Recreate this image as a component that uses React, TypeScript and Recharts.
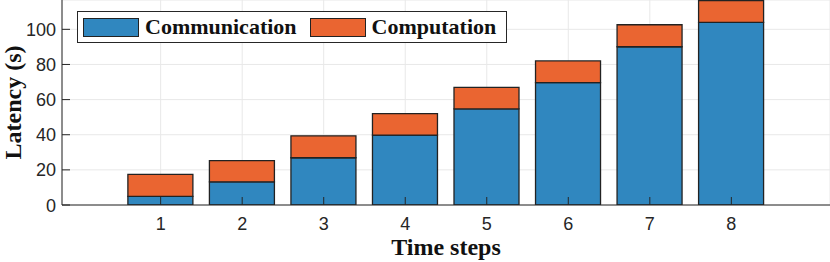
import React from "react";
import { BarChart, Bar, XAxis, YAxis, CartesianGrid, Legend } from "recharts";

const steps = [1, 2, 3, 4, 5, 6, 7, 8];
const communication = [4.9, 13.2, 26.9, 39.8, 54.7, 69.7, 90.1, 104.0];
const computation = [12.5, 12.1, 12.5, 12.2, 12.3, 12.3, 12.5, 12.3];
const yTicks = [0, 20, 40, 60, 80, 100];

const data = steps.map((s, i) => ({
  step: s,
  communication: communication[i],
  computation: computation[i],
}));

const BLUE = "#3087bf";
const ORANGE = "#ea6531";
const EDGE = "#222222";
const AXIS = "#262626";
const SERIF = "'Liberation Serif', 'Times New Roman', serif";
const SANS = "'Liberation Sans', Arial, Helvetica, sans-serif";

function XTick({ x, y, payload }: any) {
  return (
    <g>
      <line x1={x} x2={x} y1={y} y2={y - 8} stroke={AXIS} strokeWidth={1} />
      <text x={x} y={y + 25} textAnchor="middle" fontSize={18} fontFamily={SANS} fill={AXIS}>
        {payload.value}
      </text>
    </g>
  );
}

function YTick({ x, y, payload }: any) {
  return (
    <g>
      <line x1={x} x2={x + 8} y1={y} y2={y} stroke={AXIS} strokeWidth={1} />
      <text x={x - 6} y={y + 6.5} textAnchor="end" fontSize={18} fontFamily={SANS} fill={AXIS}>
        {payload.value}
      </text>
    </g>
  );
}

function XLabel({ viewBox }: any) {
  const cx = viewBox.x + viewBox.width / 2;
  return (
    <text x={cx} y={viewBox.y + 50} textAnchor="middle" fontFamily={SERIF} fontWeight="bold" fontSize={24} fill="#111">
      Time steps
    </text>
  );
}

function YLabel({ viewBox }: any) {
  const cy = viewBox.y + viewBox.height / 2;
  const x = 21;
  return (
    <text x={x} y={cy} transform={`rotate(-90 ${x} ${cy})`} textAnchor="middle" fontFamily={SERIF} fontWeight="bold" fontSize={24} fill="#111">
      Latency (s)
    </text>
  );
}

function LegendBox({ payload }: any) {
  return (
    <div
      style={{
        display: "flex",
        alignItems: "center",
        border: "1.3px solid #262626",
        background: "#fff",
        height: 32,
        width: 430,
        padding: "0 0 0 5px",
        boxSizing: "border-box",
      }}
    >
      {(payload || []).map((p: any, i: number) => (
        <div key={p.dataKey} style={{ display: "flex", alignItems: "center", marginLeft: i ? 13 : 0 }}>
          <div style={{ width: 56, height: 19, background: p.color, border: `1.3px solid ${EDGE}`, boxSizing: "border-box" }} />
          <span style={{ fontFamily: SERIF, fontWeight: "bold", fontSize: 22, color: "#111", marginLeft: 6, lineHeight: 1 }}>
            {p.value}
          </span>
        </div>
      ))}
    </div>
  );
}

export default function App() {
  return (
    <div style={{ position: "fixed", left: 0, top: 0, width: 830, height: 262, background: "#fff" }}>
      <BarChart width={830} height={262} data={data} margin={{ top: 0, right: 0, bottom: 0, left: 0 }} barSize={65}>
        <CartesianGrid stroke="#e8e8e8" strokeWidth={1} />
        <Bar dataKey="communication" name="Communication" stackId="a" fill={BLUE} stroke={EDGE} strokeWidth={1.3} isAnimationActive={false} />
        <Bar dataKey="computation" name="Computation" stackId="a" fill={ORANGE} stroke={EDGE} strokeWidth={1.3} isAnimationActive={false} />
        <XAxis
          dataKey="step"
          type="number"
          domain={[-0.21, 9.21]}
          ticks={steps}
          allowDataOverflow
          height={57}
          tickSize={0}
          tickMargin={0}
          tickLine={false}
          axisLine={{ stroke: AXIS, strokeWidth: 1 }}
          tick={<XTick />}
          interval={0}
          label={<XLabel />}
        />
        <YAxis
          type="number"
          domain={[0, 116.7]}
          ticks={yTicks}
          allowDataOverflow
          width={62}
          tickSize={0}
          tickMargin={0}
          tickLine={false}
          axisLine={{ stroke: AXIS, strokeWidth: 1 }}
          tick={<YTick />}
          interval={0}
          label={<YLabel />}
        />
        <Legend
          content={<LegendBox />}
          layout="horizontal"
          verticalAlign="middle"
          align="center"
          wrapperStyle={{ left: 77, top: 11, width: "auto" }}
        />
      </BarChart>
    </div>
  );
}
